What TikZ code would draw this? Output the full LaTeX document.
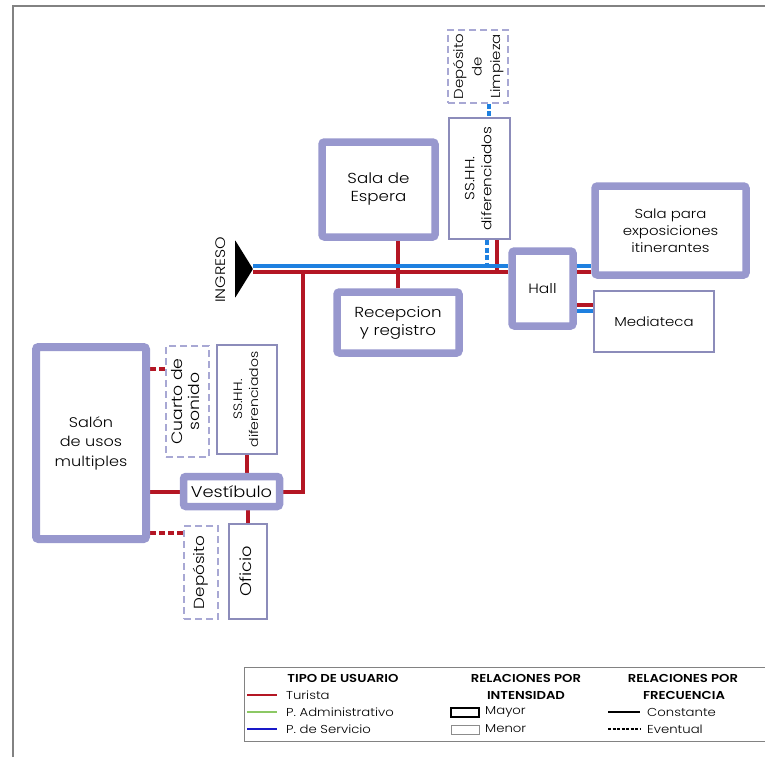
\documentclass[tikz,border=0pt]{standalone}
\usepackage{fontspec}
\setmainfont{Poppins}[FakeStretch=1.15,UprightFont=* Light,BoldFont=* SemiBold]
\usepackage{graphicx}
\usetikzlibrary{backgrounds}
\definecolor{lav}{RGB}{152,152,206}
\definecolor{thinlav}{RGB}{140,140,186}
\definecolor{dashlav}{RGB}{168,168,212}
\definecolor{myred}{RGB}{180,22,36}
\definecolor{myblue}{RGB}{30,128,224}
\definecolor{leggreen}{RGB}{140,200,100}
\definecolor{legblue}{RGB}{25,25,200}
\definecolor{framegray}{RGB}{130,130,130}
\newcommand\fs[2]{\fontsize{#1}{#2}\selectfont}
\newcommand\vrot[1]{\rotatebox{90}{\begin{tabular}{@{}c@{}}#1\end{tabular}}}
\begin{document}
\begin{tikzpicture}[x=1pt,y=-1pt,
  thickbox/.style={draw=lav,line width=7.5pt,rounded corners=2.5pt,fill=white,inner sep=0pt,align=center,font=\fs{14.5}{18}},
  thinbox/.style={draw=thinlav,line width=2pt,fill=white,inner sep=0pt,align=center,font=\fs{14.5}{18}},
  dashbox/.style={draw=dashlav,line width=2pt,dash pattern=on 7pt off 4pt,fill=white,inner sep=0pt,align=center,font=\fs{14.5}{18}},
  redln/.style={draw=myred,line width=4pt},
  blueln/.style={draw=myblue,line width=4pt},
  reddash/.style={draw=myred,line width=4.5pt,dash pattern=on 6pt off 3pt},
  bluedash/.style={draw=myblue,line width=4pt,dash pattern=on 5pt off 2.5pt},
  lgtext/.style={inner sep=0pt,font=\fs{11.5}{13}},
  lghead/.style={inner sep=0pt,font=\fs{11.5}{13}\bfseries}]
\useasboundingbox (0,0) rectangle (765,757);
\clip (0,0) rectangle (765,757);
% frame
\draw[framegray,line width=1.2pt] (13,757) -- (13,6) -- (765,6);

% rooms
\node[thickbox,minimum width=113pt,minimum height=95pt] (espera) at (378.5,189.5) {Sala de\\Espera};
\node[thickbox,minimum width=122pt,minimum height=61pt] (recep) at (398,322.5) {Recepcion\\y registro};
\node[thickbox,minimum width=61pt,minimum height=75pt,font=\fs{13.5}{17}] (hall) at (542.5,288.5) {Hall};
\node[thickbox,minimum width=151pt,minimum height=89pt,font=\fs{13}{17}] (salaexp) at (670.5,230.5) {Sala para\\exposiciones\\itinerantes};
\node[thinbox,minimum width=120pt,minimum height=61pt,font=\fs{13}{16}] (media) at (654,321.5) {Mediateca};
\node[thinbox,minimum width=61pt,minimum height=121pt,font=\fs{13.3}{17}] (ssT) at (479.5,178.5) {\vrot{SS.HH.\\diferenciados}};
\node[dashbox,minimum width=60pt,minimum height=73pt,font=\fs{13}{18.5}] (depL) at (478,66.5) {\vrot{Depósito\\de\\Limpieza}};
\node[thickbox,line width=8pt,minimum width=110pt,minimum height=192pt,font=\fs{14}{19.5}] (salon) at (91,443) {Salón\\de usos\\multiples};
\node[dashbox,minimum width=43pt,minimum height=111pt,font=\fs{15}{17.5}] (cuarto) at (187.5,401.5) {\vrot{Cuarto de\\sonido}};
\node[thinbox,minimum width=60pt,minimum height=109pt,font=\fs{12.2}{16}] (ssL) at (247,399.5) {\vrot{SS.HH.\\diferenciados}};
\node[thickbox,minimum width=96pt,minimum height=30pt,font=\fs{15.5}{18}] (vest) at (231.5,491.5) {Vestíbulo};
\node[dashbox,minimum width=34pt,minimum height=93pt,font=\fs{14.6}{18}] (depLow) at (201,572.5) {\vrot{Depósito}};
\node[thinbox,minimum width=38pt,minimum height=95pt,font=\fs{15.5}{18}] (oficio) at (248,571.5) {\vrot{Oficio}};

% connectors
\coordinate (yB) at (0,266);
\coordinate (yR) at (0,272);
\coordinate (tip) at (253,269);
\coordinate (jn) at (303,272);
\coordinate (yM1) at (0,305);
\coordinate (yM2) at (0,311);
\coordinate (yC) at (0,369);
\coordinate (yD) at (0,533);
\begin{scope}[on background layer]
\draw[redln] (recep.north) -- (recep.north |- espera.south);
\draw[bluedash] ([xshift=7.5pt]ssT.south) -- ([xshift=7.5pt]ssT.south |- yB);
\draw[redln] ([xshift=17.5pt]ssT.south) -- ([xshift=17.5pt]ssT.south |- yR);
\draw[bluedash] ([xshift=11pt]depL.south) -- ([xshift=11pt]depL.south |- ssT.north);
\draw[redln] (jn) |- (vest.east);
\draw[blueln] (tip |- yB) -- (hall.west |- yB);
\draw[redln] (tip |- yR) -- (hall.west |- yR);
\draw[blueln] (hall.east |- yB) -- (salaexp.west |- yB);
\draw[redln] (hall.east |- yR) -- (salaexp.west |- yR);
\draw[redln] (hall.east |- yM1) -- (media.west |- yM1);
\draw[blueln] (hall.east |- yM2) -- (media.west |- yM2);
\draw[reddash] (salon.east |- yC) -- (cuarto.west |- yC);
\draw[redln] (salon.east |- vest.west) -- (vest.west);
\draw[reddash] (salon.east |- yD) -- (depLow.west |- yD);
\draw[redln] (ssL.south) -- (ssL.south |- vest.north);
\draw[redln] (oficio.north |- vest.south) -- (oficio.north);
\end{scope}

% ingreso
\fill[black,rounded corners=0.8pt] (235,240) -- (tip) -- (235,298) -- cycle;
\node[inner sep=0pt,rotate=90,font=\fs{13.8}{16}] (ingreso) at (221,270) {INGRESO};

% legend
\draw[framegray,line width=0.8pt] (244,667) rectangle (790,741);
\node[lghead] (h1) at (343,678) {TIPO DE USUARIO};
\draw[myred,line width=2.2pt] (247,695) -- (277,695);
\node[lgtext,anchor=west] (t1) at (286,695) {Turista};
\draw[leggreen,line width=2.2pt] (247,712) -- (277,712);
\node[lgtext,anchor=west] (t2) at (286,712) {P. Administrativo};
\draw[legblue,line width=2.2pt] (247,729) -- (277,729);
\node[lgtext,anchor=west] (t3) at (286,729) {P. de Servicio};
\node[lghead] (h2) at (526,678) {RELACIONES POR};
\node[lghead] (h3) at (526,695) {INTENSIDAD};
\draw[black,line width=1.5pt] (451,708) rectangle (479,717);
\node[lgtext,anchor=west] (t4) at (485,712) {Mayor};
\draw[black!45,line width=0.5pt] (451,725) rectangle (479,734);
\node[lgtext,anchor=west] (t5) at (485,729) {Menor};
\node[lghead] (h4) at (683,678) {RELACIONES POR};
\node[lghead] (h5) at (684,695) {FRECUENCIA};
\draw[black,line width=2.2pt] (608,712) -- (640,712);
\node[lgtext,anchor=west] (t6) at (647,712) {Constante};
\draw[black,line width=2.2pt,dash pattern=on 3pt off 1.5pt] (608,729) -- (640,729);
\node[lgtext,anchor=west] (t7) at (647,729) {Eventual};
\end{tikzpicture}
\end{document}
